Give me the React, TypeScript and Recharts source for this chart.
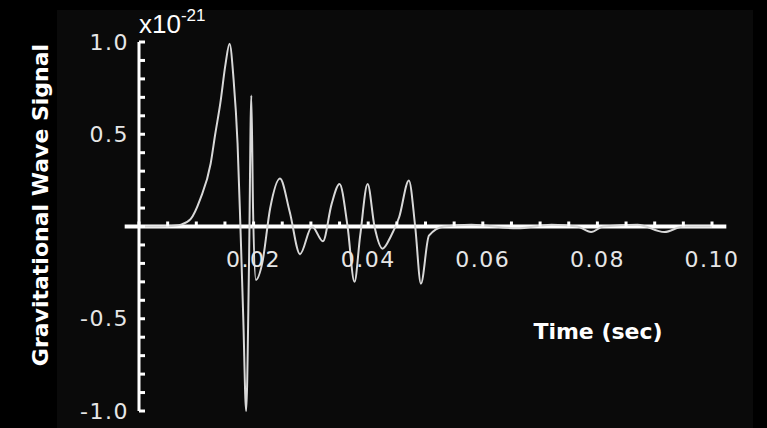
import { Line, LineChart, ReferenceLine, XAxis, YAxis } from 'recharts'

// time in seconds, signal in units of 1e-21
const times = [
    0, 0.004, 0.0065, 0.0073, 0.009, 0.0107, 0.0125, 0.0133, 0.0142, 0.0151, 0.0158, 0.0165, 0.0172, 0.0177,
    0.0182, 0.0187, 0.0192, 0.0196, 0.0199, 0.0204, 0.0215, 0.0229, 0.0246, 0.0263, 0.0281, 0.0302,
    0.0321, 0.0336, 0.035, 0.0364, 0.0376, 0.0386, 0.0399, 0.0411, 0.0425, 0.044, 0.0454, 0.0471,
    0.0482, 0.0492, 0.0506, 0.0532, 0.058, 0.066, 0.072, 0.0765, 0.0789, 0.081, 0.087, 0.0917, 0.095, 0.1
]
const signal = [
    0, 0, 0.005, 0.01, 0.04, 0.15, 0.34, 0.5, 0.67, 0.88, 0.99, 0.8, 0.45, 0,
    -0.5, -1.0, -0.2, 0.71, 0.1, -0.29, -0.2, 0.1, 0.26, 0.08, -0.15, 0,
    -0.08, 0.12, 0.23, 0, -0.3, -0.05, 0.23, 0, -0.12, -0.05, 0.05, 0.25,
    0, -0.31, -0.05, 0, 0.01, -0.01, 0.01, 0, -0.03, 0, 0.01, -0.03, 0, 0
]
const xTicks = [
    0, 0.005, 0.01, 0.015, 0.02, 0.025, 0.03, 0.035, 0.04, 0.045, 0.05, 0.055, 0.06, 0.065, 0.07,
    0.075, 0.08, 0.085, 0.09, 0.095, 0.1
]
const xLabels = ['0.02', '0.04', '0.06', '0.08', '0.10']
const yTicks = [-1, -0.9, -0.8, -0.7, -0.6, -0.5, -0.4, -0.3, -0.2, -0.1, 0, 0.1, 0.2, 0.3, 0.4, 0.5, 0.6, 0.7, 0.8, 0.9, 1]
const yLabels = { '1': '1.0', '0.5': '0.5', '-0.5': '-0.5', '-1': '-1.0' }

const data = times.map((t, i) => ({ t, v: signal[i] }))

const W = 767
const H = 428
const TOP = 42
const BOTTOM = 17
const ZERO_Y = (TOP + (H - BOTTOM)) / 2
const tickFont = { fontFamily: 'DejaVu Sans', fontSize: 22, letterSpacing: 1.5, fill: '#e6e6e6' }

const XTick = (props) => {
    const { x, y, payload } = props
    const y0 = y - (H - BOTTOM - ZERO_Y)
    const label = xLabels.find((l) => Math.abs(parseFloat(l) - payload.value) < 1e-9)
    return (
        <g>
            <line x1={x} x2={x} y1={y0} y2={y0 - 5} stroke="#fff" strokeWidth={3} />
            {label && (
                <text x={x} y={y0 + 40} textAnchor="middle" {...tickFont}>
                    {label}
                </text>
            )}
        </g>
    )
}

const YTick = (props) => {
    const { x, y, payload } = props
    const label = yLabels[String(payload.value)]
    return (
        <g>
            <line x1={x} x2={x + 6} y1={y} y2={y} stroke="#fff" strokeWidth={3} />
            {label && (
                <text x={x - 10} y={y} textAnchor="end" dominantBaseline="central" {...tickFont}>
                    {label}
                </text>
            )}
        </g>
    )
}

export default function App() {
    return (
        <div style={{ position: 'absolute', left: 0, top: 0, width: W, height: H, background: '#000' }}>
            <div style={{ position: 'absolute', left: 57, top: 10, width: 696, height: 418, background: '#0a0a0a' }} />
            <div style={{ position: 'absolute', left: 0, top: 0 }}>
                <LineChart
                    width={W}
                    height={H}
                    data={data}
                    margin={{ top: TOP, right: 55, left: 99, bottom: 0 }}>
                    <XAxis
                        dataKey="t"
                        type="number"
                        domain={[0, 0.1]}
                        ticks={xTicks}
                        interval={0}
                        axisLine={false}
                        tickLine={false}
                        tickSize={0}
                        tickMargin={0}
                        height={BOTTOM}
                        tick={<XTick />}
                    />
                    <YAxis
                        type="number"
                        domain={[-1, 1]}
                        ticks={yTicks}
                        interval={0}
                        width={40}
                        axisLine={{ stroke: '#fff', strokeWidth: 3 }}
                        tickLine={false}
                        tickSize={0}
                        tickMargin={0}
                        tick={<YTick />}
                    />
                    <ReferenceLine
                        segment={[{ x: -0.0025, y: 0 }, { x: 0.1025, y: 0 }]}
                        stroke="#fff"
                        strokeWidth={4}
                        ifOverflow="visible"
                    />
                    <Line
                        type="monotone"
                        dataKey="v"
                        stroke="#d8d8d8"
                        strokeWidth={2}
                        dot={false}
                        isAnimationActive={false}
                    />
                    <text x={139} y={33} fill="#fff" fontFamily="Liberation Sans" fontSize={26}>
                        x10
                        <tspan dy={-12} fontSize={17}>-21</tspan>
                    </text>
                    <text
                        x={40}
                        y={205}
                        transform="rotate(-90 40 205)"
                        textAnchor="middle"
                        dominantBaseline="central"
                        fill="#fff"
                        fontFamily="DejaVu Sans"
                        fontWeight="bold"
                        fontSize={22}>
                        Gravitational Wave Signal
                    </text>
                    <text x={598} y={339} textAnchor="middle" fill="#fff" fontFamily="DejaVu Sans" fontWeight="bold" fontSize={22}>
                        Time (sec)
                    </text>
                </LineChart>
            </div>
        </div>
    )
}
